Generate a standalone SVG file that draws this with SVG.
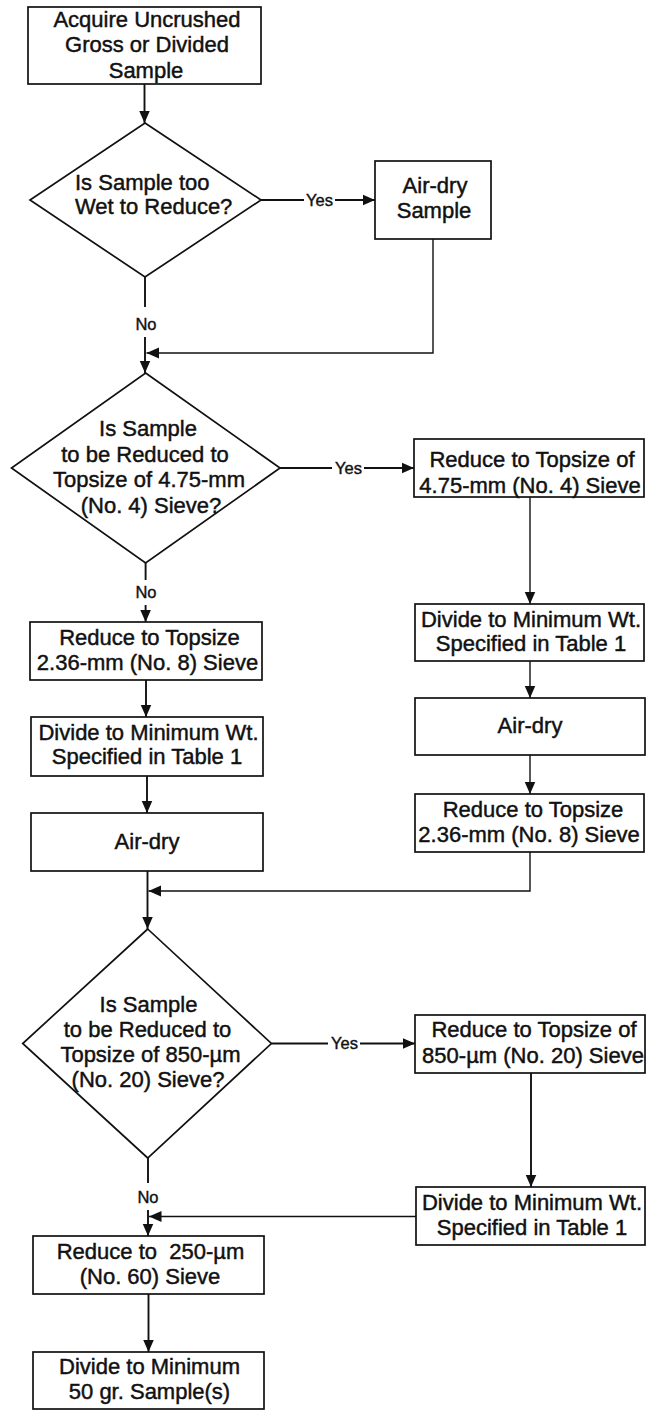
<svg xmlns="http://www.w3.org/2000/svg" width="646" height="1410" viewBox="0 0 646 1410">
<style>
.box{fill:#fff;stroke:#111;stroke-width:1.7}
.t{font-family:"Liberation Sans",Arial,Helvetica,sans-serif;font-size:22px;fill:#111;stroke:#111;stroke-width:0.45;text-anchor:middle}
.l{text-anchor:start}
.lbl{font-family:"Liberation Sans",Arial,Helvetica,sans-serif;font-size:16.5px;fill:#111;stroke:#111;stroke-width:0.4;text-anchor:middle}
.ln{fill:none;stroke:#111;stroke-width:1.9}
.thin{stroke-width:1.4}
</style>
<defs>
<marker id="arr" markerUnits="userSpaceOnUse" markerWidth="13" markerHeight="12" refX="12.5" refY="6" orient="auto">
<path d="M0,0.5 L12.5,6 L0,11.5 Z" fill="#111"/>
</marker>
</defs>
<rect width="646" height="1410" fill="#fff"/>
<g id="connectors">
<path class="ln" d="M144.5,84 V123" marker-end="url(#arr)"/>
<path class="ln" d="M261,200 H304"/>
<path class="ln" d="M335,200 H375" marker-end="url(#arr)"/>
<path class="ln" d="M145,277 V307"/>
<path class="ln" d="M145,337 V373" marker-end="url(#arr)"/>
<path class="ln thin" d="M433,239 V353 H146.5" marker-end="url(#arr)"/>
<path class="ln" d="M280,468 H332"/>
<path class="ln" d="M364,468 H414" marker-end="url(#arr)"/>
<path class="ln" d="M145.6,563 V580"/>
<path class="ln" d="M145.6,605 V622" marker-end="url(#arr)"/>
<path class="ln thin" d="M530,497 V604" marker-end="url(#arr)"/>
<path class="ln thin" d="M530,661 V698" marker-end="url(#arr)"/>
<path class="ln thin" d="M530,755 V794" marker-end="url(#arr)"/>
<path class="ln" d="M146,680 V717" marker-end="url(#arr)"/>
<path class="ln" d="M147,776 V813" marker-end="url(#arr)"/>
<path class="ln" d="M147.5,871 V929" marker-end="url(#arr)"/>
<path class="ln thin" d="M530,852 V891 H148.5" marker-end="url(#arr)"/>
<path class="ln" d="M271.4,1043.5 H328"/>
<path class="ln" d="M360,1043.5 H415" marker-end="url(#arr)"/>
<path class="ln" d="M531,1073 V1187" marker-end="url(#arr)"/>
<path class="ln thin" d="M416,1216.5 H149" marker-end="url(#arr)"/>
<path class="ln" d="M148,1158 V1183"/>
<path class="ln" d="M148,1210 V1236" marker-end="url(#arr)"/>
<path class="ln" d="M148.5,1294 V1352" marker-end="url(#arr)"/>
<text class="lbl" x="319.5" y="205.5">Yes</text>
<text class="lbl" x="146" y="330">No</text>
<text class="lbl" x="348.5" y="473.5">Yes</text>
<text class="lbl" x="146" y="598">No</text>
<text class="lbl" x="344.5" y="1049">Yes</text>
<text class="lbl" x="148" y="1203">No</text>
</g>
<g id="n1">
<rect class="box" x="28" y="7" width="233" height="77"/>
<text class="t" x="147" y="26.5">Acquire Uncrushed</text>
<text class="t" x="147" y="52">Gross or Divided</text>
<text class="t" x="146" y="77.5">Sample</text>
</g>
<g id="d1">
<polygon class="box" points="145,123 261,200 145,277 30,200"/>
<text class="t l" x="75" y="190">Is Sample too</text>
<text class="t l" x="75" y="214">Wet to Reduce?</text>
</g>
<g id="n2">
<rect class="box" x="375" y="161" width="116" height="78"/>
<text class="t" x="435" y="193">Air-dry</text>
<text class="t" x="434" y="218">Sample</text>
</g>
<g id="d2">
<polygon class="box" points="145.6,373 280,468 145.6,563 11.5,468"/>
<text class="t" x="148" y="436">Is Sample</text>
<text class="t" x="145" y="461.5">to be Reduced to</text>
<text class="t" x="149" y="487">Topsize of 4.75-mm</text>
<text class="t" x="151" y="512.5">(No. 4) Sieve?</text>
</g>
<g id="n3">
<rect class="box" x="414" y="439" width="230" height="58"/>
<text class="t" x="532" y="467">Reduce to Topsize of</text>
<text class="t" x="530" y="493">4.75-mm (No. 4) Sieve</text>
</g>
<g id="n4">
<rect class="box" x="415" y="604" width="229" height="57"/>
<text class="t" x="531" y="627">Divide to Minimum Wt.</text>
<text class="t" x="531" y="651">Specified in Table 1</text>
</g>
<g id="n5">
<rect class="box" x="415" y="698" width="230" height="57"/>
<text class="t" x="530" y="733">Air-dry</text>
</g>
<g id="n6">
<rect class="box" x="415" y="794" width="229" height="58"/>
<text class="t" x="533" y="817">Reduce to Topsize</text>
<text class="t" x="529" y="842">2.36-mm (No. 8) Sieve</text>
</g>
<g id="n7">
<rect class="box" x="30" y="622" width="232" height="58"/>
<text class="t" x="149.5" y="645">Reduce to Topsize</text>
<text class="t" x="147.5" y="670">2.36-mm (No. 8) Sieve</text>
</g>
<g id="n8">
<rect class="box" x="31" y="717" width="232" height="59"/>
<text class="t" x="148.5" y="739.5">Divide to Minimum Wt.</text>
<text class="t" x="147" y="764">Specified in Table 1</text>
</g>
<g id="n9">
<rect class="box" x="31" y="813" width="232" height="58"/>
<text class="t" x="147" y="848.5">Air-dry</text>
</g>
<g id="d3">
<polygon class="box" points="147.7,929 271.4,1043.5 147.7,1158 22.7,1043.5"/>
<text class="t" x="148.5" y="1011.7">Is Sample</text>
<text class="t" x="147.5" y="1036.7">to be Reduced to</text>
<text class="t" x="150.5" y="1061.7">Topsize of 850-µm</text>
<text class="t" x="148" y="1086.7">(No. 20) Sieve?</text>
</g>
<g id="n10">
<rect class="box" x="415" y="1015" width="230" height="58"/>
<text class="t" x="534" y="1037">Reduce to Topsize of</text>
<text class="t" x="533" y="1063">850-µm (No. 20) Sieve</text>
</g>
<g id="n11">
<rect class="box" x="416" y="1187" width="229" height="58"/>
<text class="t" x="532" y="1210">Divide to Minimum Wt.</text>
<text class="t" x="532" y="1235">Specified in Table 1</text>
</g>
<g id="n12">
<rect class="box" x="33" y="1236" width="231" height="58"/>
<text class="t" x="150.5" y="1258.5" xml:space="preserve">Reduce to  250-µm</text>
<text class="t" x="150" y="1283.5">(No. 60) Sieve</text>
</g>
<g id="n13">
<rect class="box" x="33" y="1352" width="231" height="57"/>
<text class="t" x="149.5" y="1373.5">Divide to Minimum</text>
<text class="t" x="149.5" y="1398.5">50 gr. Sample(s)</text>
</g>
</svg>
